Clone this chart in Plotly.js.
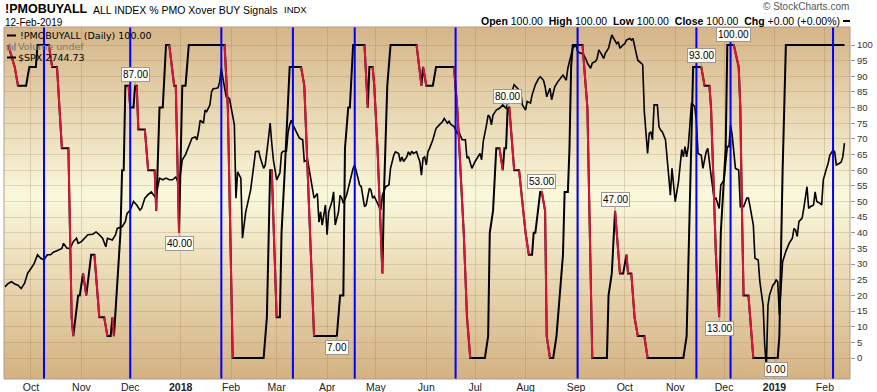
<!DOCTYPE html>
<html><head><meta charset="utf-8">
<script src="https://cdn.plot.ly/plotly-3.0.1.min.js"></script>
<style>html,body{margin:0;padding:0;background:#fff;}#chart{width:877px;height:392px;}</style>
</head><body><div id="chart"></div>
<script>
// ---------------- DATA ----------------
const pmoDates = [
 '2017-09-17','2017-09-21','2017-09-23','2017-09-28','2017-09-30',
 '2017-10-04','2017-10-05','2017-10-12','2017-10-14','2017-10-17','2017-10-20','2017-10-24','2017-10-26','2017-10-27','2017-10-30','2017-10-31',
 '2017-11-02','2017-11-04','2017-11-07','2017-11-09','2017-11-12','2017-11-15','2017-11-17','2017-11-19','2017-11-20','2017-11-21','2017-11-25','2017-11-26','2017-11-27','2017-11-28','2017-11-30',
 '2017-12-01','2017-12-03','2017-12-04','2017-12-05','2017-12-06','2017-12-10','2017-12-12','2017-12-16','2017-12-17','2017-12-19','2017-12-21','2017-12-23','2017-12-25','2017-12-28','2017-12-29','2017-12-31',
 '2018-01-02','2018-01-04','2018-01-06','2018-01-28','2018-01-30',
 '2018-02-02','2018-02-21','2018-02-23','2018-02-25','2018-02-26',
 '2018-03-01','2018-03-03','2018-03-04','2018-03-06','2018-03-09','2018-03-16','2018-03-18','2018-03-21','2018-03-24',
 '2018-04-07','2018-04-09','2018-04-11','2018-04-12','2018-04-14','2018-04-15','2018-04-17','2018-04-24','2018-04-26','2018-04-27','2018-04-29','2018-04-30',
 '2018-05-02','2018-05-05','2018-05-06','2018-05-08','2018-05-10','2018-05-26','2018-05-29','2018-05-30',
 '2018-06-01','2018-06-05','2018-06-07','2018-06-18','2018-06-20','2018-06-24','2018-06-26','2018-06-28',
 '2018-07-07','2018-07-09','2018-07-10','2018-07-12','2018-07-14','2018-07-16','2018-07-18','2018-07-19','2018-07-20','2018-07-21','2018-07-22','2018-07-25','2018-07-28',
 '2018-08-01','2018-08-03','2018-08-05','2018-08-06','2018-08-07','2018-08-10','2018-08-11','2018-08-13','2018-08-14','2018-08-16','2018-08-18','2018-08-20','2018-08-22','2018-08-24','2018-08-25','2018-08-27','2018-08-28','2018-08-29','2018-08-30',
 '2018-09-05','2018-09-08','2018-09-11','2018-09-20','2018-09-21','2018-09-23','2018-09-25','2018-09-28','2018-09-30',
 '2018-10-02','2018-10-03','2018-10-05','2018-10-07','2018-10-09','2018-10-13','2018-10-15',
 '2018-11-06','2018-11-08','2018-11-10','2018-11-12','2018-11-17','2018-11-19','2018-11-22','2018-11-23','2018-11-26','2018-11-28','2018-11-29',
 '2018-12-02','2018-12-03','2018-12-07','2018-12-10','2018-12-11','2018-12-12','2018-12-13','2018-12-16','2018-12-19',
 '2019-01-03','2019-01-04','2019-01-06','2019-01-08',
 '2019-02-13'];
const pmoValues = [
 100,93,87,87,93,
 93,100,100,93,93,67,67,13,7,20,20,
 27,20,33,33,13,13,7,7,13,7,40,60,60,87,87,
 80,80,87,87,73,73,60,60,47,80,80,100,100,87,87,40,
 87,87,100,100,80,
 0,0,13,60,60,
 13,13,40,60,93,93,87,47,7,
 7,20,20,67,80,80,100,100,80,93,93,87,
 67,27,53,87,100,100,87,93,
 87,87,93,93,80,40,13,0,
 0,7,40,47,67,67,60,67,67,80,80,60,60,
 40,33,33,40,40,53,53,47,7,0,0,7,20,33,53,53,67,93,100,
 100,80,0,0,20,27,47,27,27,
 33,27,27,13,7,7,0,
 0,7,53,93,93,87,87,80,33,13,40,
 67,100,100,93,80,47,20,20,0,
 0,7,60,100,
 100];

const spxDates = [
 '2017-09-15','2017-09-17','2017-09-19','2017-09-21','2017-09-23','2017-09-25','2017-09-27','2017-09-29',
 '2017-10-01','2017-10-03','2017-10-05','2017-10-07','2017-10-09','2017-10-11','2017-10-13','2017-10-15','2017-10-17','2017-10-20','2017-10-21','2017-10-23','2017-10-25','2017-10-27','2017-10-29','2017-10-30',
 '2017-11-01','2017-11-03','2017-11-05','2017-11-08','2017-11-10','2017-11-12','2017-11-14','2017-11-16','2017-11-17','2017-11-20','2017-11-22','2017-11-23','2017-11-26','2017-11-28','2017-11-29',
 '2017-12-01','2017-12-03','2017-12-05','2017-12-07','2017-12-08','2017-12-10','2017-12-12','2017-12-14','2017-12-16','2017-12-17','2017-12-19','2017-12-21','2017-12-23','2017-12-25','2017-12-27','2017-12-29','2017-12-31',
 '2018-01-02','2018-01-04','2018-01-06','2018-01-08','2018-01-10','2018-01-11','2018-01-12','2018-01-13','2018-01-15','2018-01-16','2018-01-17','2018-01-19','2018-01-20','2018-01-21','2018-01-23','2018-01-24','2018-01-25','2018-01-26','2018-01-27','2018-01-29','2018-01-31',
 '2018-02-03','2018-02-04','2018-02-05','2018-02-07','2018-02-08','2018-02-10','2018-02-12','2018-02-13','2018-02-15','2018-02-16','2018-02-18','2018-02-19','2018-02-21','2018-02-22','2018-02-24','2018-02-25','2018-02-26','2018-02-27',
 '2018-03-01','2018-03-03','2018-03-04','2018-03-05','2018-03-07','2018-03-08','2018-03-09','2018-03-10','2018-03-11','2018-03-13','2018-03-15','2018-03-17','2018-03-18','2018-03-20','2018-03-21','2018-03-22','2018-03-24','2018-03-26','2018-03-27','2018-03-28','2018-03-29','2018-03-31',
 '2018-04-01','2018-04-02','2018-04-04','2018-04-05','2018-04-06','2018-04-08','2018-04-09','2018-04-10','2018-04-11','2018-04-13','2018-04-15','2018-04-17','2018-04-18','2018-04-19','2018-04-21','2018-04-22','2018-04-24','2018-04-25','2018-04-27','2018-04-28','2018-04-29','2018-04-30',
 '2018-05-01','2018-05-03','2018-05-04','2018-05-05','2018-05-07','2018-05-09','2018-05-10','2018-05-12','2018-05-13','2018-05-15','2018-05-16','2018-05-17','2018-05-18','2018-05-20','2018-05-21','2018-05-22','2018-05-23','2018-05-24','2018-05-26','2018-05-27','2018-05-28','2018-05-29','2018-05-30','2018-05-31',
 '2018-06-01','2018-06-02','2018-06-03','2018-06-05','2018-06-07','2018-06-09','2018-06-11','2018-06-12','2018-06-14','2018-06-15','2018-06-16','2018-06-18','2018-06-20','2018-06-21','2018-06-22','2018-06-23','2018-06-25','2018-06-26','2018-06-27','2018-06-29',
 '2018-07-01','2018-07-03','2018-07-04','2018-07-05','2018-07-06','2018-07-08','2018-07-09','2018-07-10','2018-07-11','2018-07-12','2018-07-14','2018-07-16','2018-07-18','2018-07-20','2018-07-21','2018-07-25','2018-07-27','2018-07-29','2018-07-30',
 '2018-08-01','2018-08-02','2018-08-04','2018-08-05','2018-08-07','2018-08-09','2018-08-10','2018-08-12','2018-08-13','2018-08-14','2018-08-16','2018-08-17','2018-08-18','2018-08-19','2018-08-21','2018-08-23','2018-08-24','2018-08-26','2018-08-27','2018-08-29','2018-08-30','2018-08-31',
 '2018-09-01','2018-09-02','2018-09-04','2018-09-05','2018-09-07','2018-09-08','2018-09-10','2018-09-11','2018-09-13','2018-09-14','2018-09-15','2018-09-17','2018-09-18','2018-09-19','2018-09-20','2018-09-21','2018-09-23','2018-09-24','2018-09-26','2018-09-27','2018-09-28','2018-09-30',
 '2018-10-01','2018-10-02','2018-10-04','2018-10-05','2018-10-06','2018-10-08','2018-10-09','2018-10-11','2018-10-12','2018-10-13','2018-10-15','2018-10-16','2018-10-17','2018-10-18','2018-10-19','2018-10-21','2018-10-22','2018-10-23','2018-10-24','2018-10-26','2018-10-27','2018-10-28','2018-10-29','2018-10-30','2018-10-31',
 '2018-11-01','2018-11-03','2018-11-04','2018-11-05','2018-11-06','2018-11-07','2018-11-08','2018-11-09','2018-11-11','2018-11-13','2018-11-14','2018-11-15','2018-11-17','2018-11-18','2018-11-20','2018-11-21','2018-11-23','2018-11-25','2018-11-26','2018-11-28','2018-11-29',
 '2018-12-01','2018-12-03','2018-12-04','2018-12-05','2018-12-06','2018-12-08','2018-12-10','2018-12-11','2018-12-13','2018-12-15','2018-12-16','2018-12-17','2018-12-19','2018-12-20','2018-12-22','2018-12-23','2018-12-25','2018-12-26','2018-12-27','2018-12-28','2018-12-29','2018-12-31',
 '2019-01-01','2019-01-02','2019-01-03','2019-01-04','2019-01-05','2019-01-06','2019-01-08','2019-01-10','2019-01-12','2019-01-13','2019-01-14','2019-01-15','2019-01-16','2019-01-18','2019-01-19','2019-01-21','2019-01-22','2019-01-23','2019-01-25','2019-01-26','2019-01-27','2019-01-29','2019-01-30','2019-01-31',
 '2019-02-02','2019-02-03','2019-02-04','2019-02-06','2019-02-07','2019-02-08','2019-02-10','2019-02-11','2019-02-12','2019-02-13'];
const spxValues = [
 2490,2496,2499,2495,2493,2487,2496,2514,
 2522,2531,2546,2540,2537,2546,2546,2551,2553,2557,2566,2558,2557,2569,2575,2566,
 2569,2575,2581,2582,2586,2581,2575,2560,2575,2572,2581,2592,2595,2604,2618,
 2624,2639,2633,2624,2627,2645,2651,2656,2648,2651,2680,2677,2680,2677,2677,2682,2669,
 2712,2721,2736,2750,2752,2747,2761,2781,2776,2799,2796,2808,2831,2836,2837,2838,2848,2872,2854,2822,2819,
 2773,2645,2691,2680,2575,2621,2650,2659,2703,2726,2727,2715,2697,2703,2750,2776,2741,2712,
 2677,2689,2724,2727,2727,2759,2773,2781,2773,2761,2750,2747,2709,2712,2697,2680,2645,2653,2603,2621,2598,2633,
 2581,2621,2639,2656,2598,2621,2650,2645,2636,2650,2674,2697,2703,2691,2668,2665,2630,2633,2662,2659,2645,2648,
 2642,2630,2624,2650,2665,2668,2697,2720,2726,2723,2709,2717,2709,2717,2726,2720,2727,2723,2726,2717,2709,2685,2715,2717,
 2703,2726,2732,2747,2767,2773,2779,2784,2776,2779,2774,2770,2758,2761,2755,2747,2747,2715,2717,2697,
 2709,2720,2723,2712,2744,2773,2790,2787,2773,2790,2799,2802,2808,2802,2811,2843,2837,2831,2808,
 2799,2814,2811,2825,2843,2854,2857,2851,2840,2822,2837,2817,2831,2840,2849,2857,2860,2851,2872,2895,2907,2910,
 2913,2901,2898,2898,2889,2881,2872,2881,2884,2889,2904,2895,2889,2898,2904,2907,2930,2924,2915,2918,2907,2913,
 2915,2921,2924,2921,2924,2898,2886,2881,2878,2796,2723,2758,2761,2747,2808,2808,2770,2764,2761,2747,2720,2683,2650,2697,2668,
 2639,2674,2703,2730,2717,2735,2717,2735,2811,2805,2779,2723,2720,2697,2726,2732,2685,2642,2645,2627,2668,
 2677,2735,2735,2773,2755,2697,2694,2630,2630,2645,2645,2630,2598,2540,2537,2499,2458,2388,2351,2458,2476,2493,
 2496,2502,2499,2441,2493,2534,2552,2566,2575,2592,2589,2578,2604,2610,2627,2665,2627,2630,2633,2656,2639,2636,2633,2677,
 2697,2706,2720,2729,2726,2703,2706,2708,2717,2741];
const spxLastClose = 2744.73;

const signalDates = ['2017-10-09','2017-12-01','2018-01-26','2018-03-11','2018-04-18','2018-06-19','2018-09-02','2018-11-14','2018-12-05','2019-02-06'];

const peakDates  = ['2017-12-04','2017-12-31','2018-04-07','2018-07-21','2018-08-11','2018-09-25','2018-11-17','2018-11-28','2018-12-07','2019-01-02'];
const peakValues = [87,40,7,80,53,47,93,13,100,0];
const peakSides  = ['above','below','below','above','above','above','above','below','above','below'];

const monthTicks  = ['2017-10-01','2017-11-01','2017-12-01','2018-01-01','2018-02-01','2018-03-01','2018-04-01','2018-05-01','2018-06-01','2018-07-01','2018-08-01','2018-09-01','2018-10-01','2018-11-01','2018-12-01','2019-01-01','2019-02-01'];
const monthLabels = ['Oct','Nov','Dec','<b>2018</b>','Feb','Mar','Apr','May','Jun','Jul','Aug','Sep','Oct','Nov','Dec','<b>2019</b>','Feb'];
const yTicks = [0,5,10,15,20,25,30,35,40,45,50,55,60,65,70,75,80,85,90,95,100];

// ---------------- BUILD ----------------
const redX = [], redY = [];
for (let i = 1; i < pmoValues.length; i++) {
  if (pmoValues[i] < pmoValues[i-1]) {
    redX.push(pmoDates[i-1], pmoDates[i], null);
    redY.push(pmoValues[i-1], pmoValues[i], null);
  }
}

const PL = 4, PR = 850, PT = 27, PB = 379;
const px = x => (x - PL) / (PR - PL);
const py = y => (PB - y) / (PB - PT);

const cv = document.createElement('canvas'); cv.width = 4; cv.height = 352;
const ctx = cv.getContext('2d');
const g = ctx.createLinearGradient(0, 0, 0, 352);
g.addColorStop(0, '#d5b588'); g.addColorStop(0.48, '#faf8dc'); g.addColorStop(1, '#d4b282');
ctx.fillStyle = g; ctx.fillRect(0, 0, 4, 352);

const traces = [
  {x: spxDates, y: spxValues, yaxis: 'y', type: 'scatter', mode: 'lines', line: {color: '#000', width: 1.6}, hoverinfo: 'skip'},
  {x: pmoDates, y: pmoValues, yaxis: 'y2', type: 'scatter', mode: 'lines', line: {color: '#000', width: 2}, hoverinfo: 'skip'},
  {x: redX, y: redY, yaxis: 'y2', type: 'scatter', mode: 'lines', line: {color: '#dc143c', width: 2}, connectgaps: false, hoverinfo: 'skip'}
];

const legY = [35.5, 46.5, 57.5];
const shapes = signalDates.map(d => ({type: 'line', xref: 'x', yref: 'paper', x0: d, x1: d, y0: 0, y1: 1, line: {color: '#0000ff', width: 2}, layer: 'above'}));
shapes.push({type: 'rect', xref: 'paper', yref: 'paper', x0: 0, x1: 1, y0: 0, y1: 1, line: {color: '#b39a88', width: 1}, layer: 'above'});
shapes.push({type: 'line', xref: 'paper', yref: 'paper', x0: px(7), x1: px(16), y0: py(legY[0]), y1: py(legY[0]), line: {color: '#000', width: 2}});
shapes.push({type: 'line', xref: 'paper', yref: 'paper', x0: px(7), x1: px(16), y0: py(legY[2]), y1: py(legY[2]), line: {color: '#000', width: 2}});
shapes.push({type: 'line', xref: 'paper', yref: 'paper', x0: px(843), x1: px(850), y0: py(21), y1: py(21), line: {color: '#000', width: 2}});
[[7.5,4],[10,7],[12.5,5],[15,8]].forEach(b => shapes.push({type: 'rect', xref: 'paper', yref: 'paper', x0: px(b[0]-0.8), x1: px(b[0]+0.8), y0: py(legY[1]+4), y1: py(legY[1]+4 - b[1]), fillcolor: '#888', line: {width: 0}}));

const lastPmo = pmoValues[pmoValues.length - 1];
const fmt = v => v.toFixed(2);
const hdrFont = 'Liberation Sans, Arial, sans-serif';
const legFont = 'DejaVu Sans, Verdana, sans-serif';
const annotations = [
  {xref: 'paper', yref: 'paper', x: px(4), y: py(8.5), xanchor: 'left', yanchor: 'middle', showarrow: false, borderpad: 0, text: '<b>!PMOBUYALL</b>', font: {family: hdrFont, size: 12.5, color: '#000'}},
  {xref: 'paper', yref: 'paper', x: px(92), y: py(10), xanchor: 'left', yanchor: 'middle', showarrow: false, borderpad: 0, text: 'ALL INDEX % PMO Xover BUY Signals', font: {family: hdrFont, size: 10.5, color: '#000'}},
  {xref: 'paper', yref: 'paper', x: px(283), y: py(10), xanchor: 'left', yanchor: 'middle', showarrow: false, borderpad: 0, text: 'INDX', font: {family: hdrFont, size: 9.5, color: '#000'}},
  {xref: 'paper', yref: 'paper', x: px(4), y: py(22.5), xanchor: 'left', yanchor: 'middle', showarrow: false, borderpad: 0, text: '12-Feb-2019', font: {family: hdrFont, size: 10, color: '#000'}},
  {xref: 'paper', yref: 'paper', x: px(850), y: py(7), xanchor: 'right', yanchor: 'middle', showarrow: false, borderpad: 0, text: '© StockCharts.com', font: {family: hdrFont, size: 10, color: '#555'}},
  {xref: 'paper', yref: 'paper', x: px(841), y: py(21), xanchor: 'right', yanchor: 'middle', showarrow: false, borderpad: 0,
   text: '<b>Open</b> ' + fmt(lastPmo) + '  <b>High</b> ' + fmt(lastPmo) + '  <b>Low</b> ' + fmt(lastPmo) + '  <b>Close</b> ' + fmt(lastPmo) + '  <b>Chg</b> +0.00 (+0.00%)',
   font: {family: hdrFont, size: 10.5, color: '#000'}},
  {xref: 'paper', yref: 'paper', x: px(19), y: py(legY[0]), xanchor: 'left', yanchor: 'middle', showarrow: false, borderpad: 0, text: '!PMOBUYALL (Daily) ' + fmt(lastPmo), font: {family: legFont, size: 9.5, color: '#000'}},
  {xref: 'paper', yref: 'paper', x: px(17), y: py(legY[1]), xanchor: 'left', yanchor: 'middle', showarrow: false, borderpad: 0, text: 'Volume undef', font: {family: legFont, size: 9.5, color: '#777'}},
  {xref: 'paper', yref: 'paper', x: px(17), y: py(legY[2]), xanchor: 'left', yanchor: 'middle', showarrow: false, borderpad: 0, text: '$SPX ' + fmt(spxLastClose), font: {family: legFont, size: 9.5, color: '#000'}}
];
peakDates.forEach((d, i) => {
  annotations.push({xref: 'x', yref: 'y2', x: d, y: peakValues[i], text: fmt(peakValues[i]), showarrow: true, arrowhead: 0, arrowwidth: 1, arrowcolor: '#999',
    ax: 0, ay: peakSides[i] === 'above' ? -11 : 11, bgcolor: '#fffdf6', bordercolor: '#a09890', borderwidth: 1, borderpad: 1,
    font: {family: hdrFont, size: 10, color: '#000'}});
});

const layout = {
  width: 877, height: 392, autosize: false,
  margin: {l: PL, r: 877 - PR, t: PT, b: 392 - PB, pad: 0},
  paper_bgcolor: '#ffffff', plot_bgcolor: 'rgba(0,0,0,0)',
  showlegend: false,
  font: {family: hdrFont, size: 10, color: '#222'},
  xaxis: {type: 'date', range: ['2017-09-14 10:00', '2019-02-16 10:00'], tickmode: 'array', tickvals: monthTicks, ticktext: monthLabels,
    showgrid: true, gridcolor: 'rgba(140,105,60,0.22)', gridwidth: 1, ticks: '', showline: false, zeroline: false,
    tickfont: {family: hdrFont, size: 10.5, color: '#222'}, fixedrange: true},
  yaxis: {range: [2329, 2944], visible: false, showgrid: false, zeroline: false, fixedrange: true},
  yaxis2: {overlaying: 'y', side: 'right', range: [-6.71, 105.75], tickmode: 'array', tickvals: yTicks,
    showgrid: true, gridcolor: 'rgba(140,105,60,0.22)', gridwidth: 1, zeroline: false, showline: false,
    ticks: 'outside', ticklen: 4, tickcolor: '#999', tickfont: {family: 'Liberation Sans Narrow, Arial Narrow, Liberation Sans, sans-serif', size: 9.5, color: '#333'}, fixedrange: true},
  images: [{source: cv.toDataURL(), xref: 'paper', yref: 'paper', x: 0, y: 1, sizex: 1, sizey: 1, sizing: 'stretch', xanchor: 'left', yanchor: 'top', layer: 'below'}],
  shapes: shapes,
  annotations: annotations
};

Plotly.newPlot('chart', traces, layout, {staticPlot: true, displayModeBar: false});
</script></body></html>
